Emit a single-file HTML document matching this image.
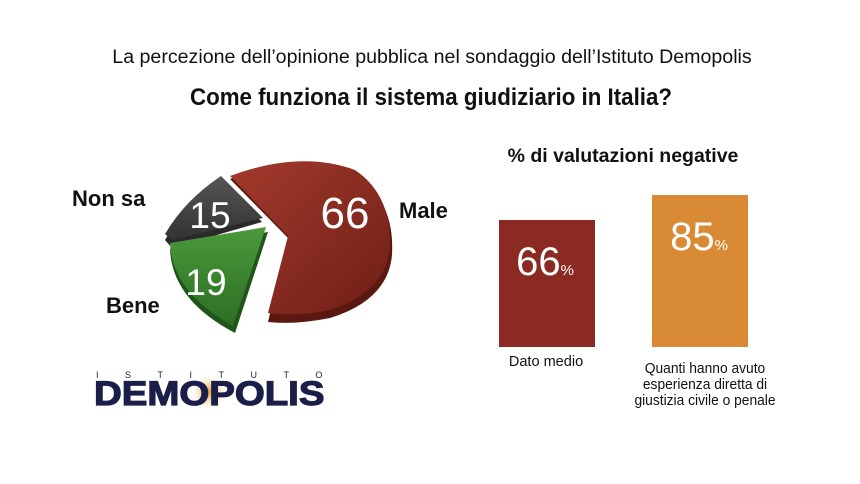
<!DOCTYPE html>
<html><head><meta charset="utf-8"><style>
html,body{margin:0;padding:0;background:#fff;}
svg{display:block;font-family:"Liberation Sans",sans-serif;}
</style></head><body>
<svg width="860" height="484" viewBox="0 0 860 484">
<defs>
<linearGradient id="rg" x1="0" y1="0" x2="1" y2="1"><stop offset="0" stop-color="#a33a2c"/><stop offset="1" stop-color="#6e1e16"/></linearGradient>
<linearGradient id="gg" x1="0" y1="0" x2="0" y2="1"><stop offset="0" stop-color="#4a9a3a"/><stop offset="1" stop-color="#2d6e24"/></linearGradient>
<linearGradient id="kg" x1="0" y1="0" x2="0" y2="1"><stop offset="0" stop-color="#555"/><stop offset="1" stop-color="#333"/></linearGradient>
<radialGradient id="og"><stop offset="0" stop-color="#e8a030"/><stop offset="1" stop-color="#f5d9a8" stop-opacity="0"/></radialGradient>
</defs>
<text x="432" y="63" text-anchor="middle" font-size="19.6" fill="#111">La percezione dell’opinione pubblica nel sondaggio dell’Istituto Demopolis</text>
<text x="431" y="105" text-anchor="middle" font-size="24" font-weight="bold" fill="#111" transform="translate(431 0) scale(0.93 1) translate(-431 0)">Come funziona il sistema giudiziario in Italia?</text>
<!-- pie -->
<path d="M288,238 L230,179 Q300,155 355,175 Q395,200 392,255 Q388,300 330,318 Q295,325 268,322 Z" fill="#5a1810"/>
<path d="M288,236 L230,176 Q300,150 355,170 Q392,195 390,248 Q385,292 330,310 Q295,317 268,313 Z" fill="url(#rg)"/>
<path d="M262,222 L222,180 Q185,205 165,240 L172,248 Z" fill="#2a2a2a"/>
<path d="M263,218 L221,176 Q185,200 165,234 L172,240 Z" fill="url(#kg)"/>
<path d="M268,232 L170,249 Q172,300 235,333 Z" fill="#1f5518"/>
<path d="M266,227 L170,243 Q172,292 233,326 Z" fill="url(#gg)"/>
<text x="210" y="228" font-size="37" fill="#fff" text-anchor="middle">15</text>
<text x="206" y="295" font-size="37" fill="#fff" text-anchor="middle">19</text>
<text x="345" y="228" font-size="44" fill="#fff" text-anchor="middle">66</text>
<text x="72" y="206" font-size="22" font-weight="bold" fill="#111">Non sa</text>
<text x="106" y="313" font-size="22" font-weight="bold" fill="#111">Bene</text>
<text x="399" y="218" font-size="22" font-weight="bold" fill="#111">Male</text>
<!-- logo -->
<circle cx="209" cy="392" r="17" fill="url(#og)"/>
<text x="96" y="378" font-size="9" fill="#1a1f4a" letter-spacing="26.5">ISTITUTO</text>
<text x="94" y="405" font-size="34" font-weight="bold" fill="#1a1f4a" stroke="#1a1f4a" stroke-width="1.2" transform="translate(94 0) scale(1.13 1) translate(-94 0)">DEMOPOLIS</text>
<!-- bars -->
<text x="623" y="162" text-anchor="middle" font-size="19.5" font-weight="bold" fill="#111">% di valutazioni negative</text>
<rect x="499" y="220" width="96" height="127" fill="#8a2a22"/>
<rect x="652" y="195" width="96" height="152" fill="#d98a35"/>
<text x="545" y="275" font-size="40" fill="#fff" text-anchor="middle">66<tspan font-size="15">%</tspan></text>
<text x="699" y="250" font-size="40" fill="#fff" text-anchor="middle">85<tspan font-size="15">%</tspan></text>
<g font-size="15" fill="#111" text-anchor="middle">
<text x="546" y="366" transform="translate(546 0) scale(0.97 1) translate(-546 0)">Dato medio</text>
<text x="705" y="373" transform="translate(705 0) scale(0.92 1) translate(-705 0)">Quanti hanno avuto</text>
<text x="705" y="389" transform="translate(705 0) scale(0.92 1) translate(-705 0)">esperienza diretta di</text>
<text x="705" y="405" transform="translate(705 0) scale(0.92 1) translate(-705 0)">giustizia civile o penale</text>
</g>
</svg>
</body></html>
